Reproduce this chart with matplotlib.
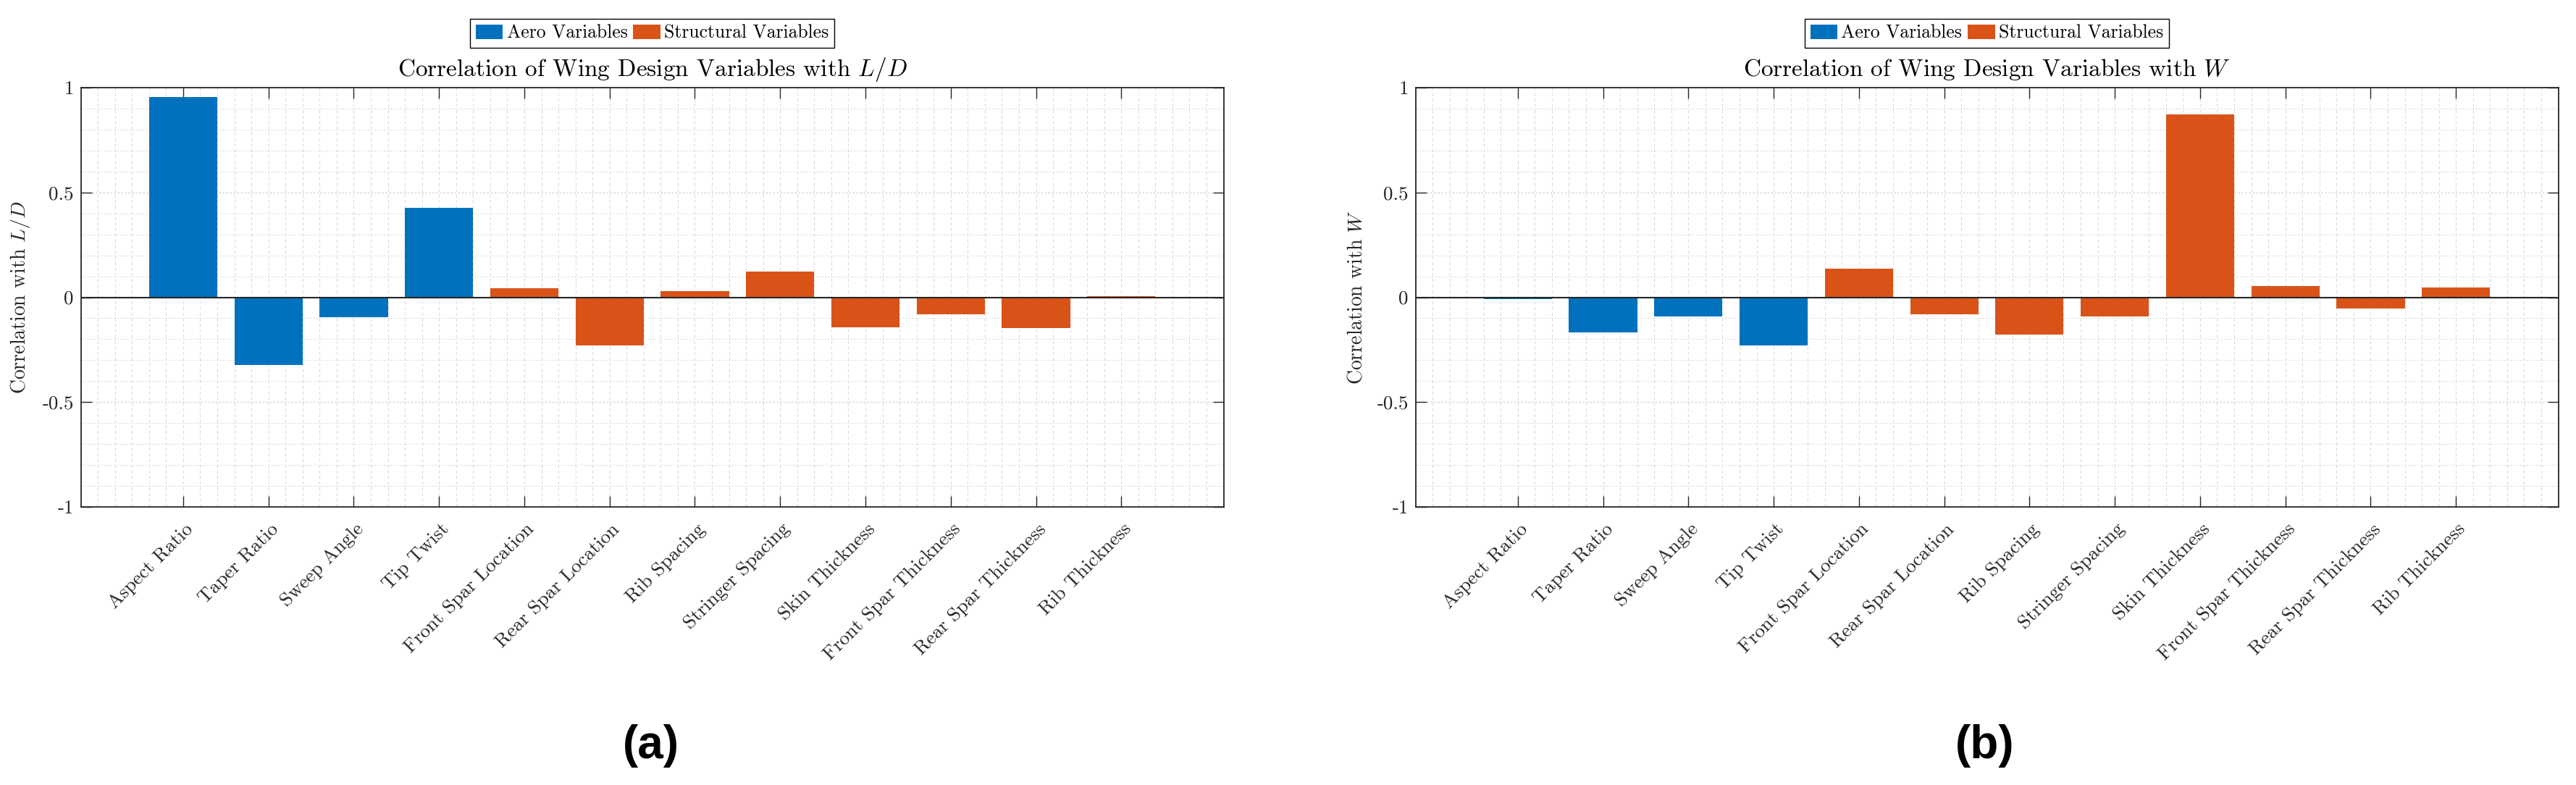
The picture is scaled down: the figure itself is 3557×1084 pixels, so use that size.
import matplotlib
matplotlib.use("Agg")
import matplotlib.pyplot as plt
import matplotlib.patches as mpatches
from matplotlib.transforms import ScaledTranslation
from matplotlib.ticker import MultipleLocator

plt.rcParams['font.family'] = ['cmr10', 'DejaVu Serif']
plt.rcParams['mathtext.fontset'] = 'cm'
plt.rcParams['axes.unicode_minus'] = False
plt.rcParams['axes.formatter.use_mathtext'] = True

categories = ["Aspect Ratio", "Taper Ratio", "Sweep Angle", "Tip Twist",
              "Front Spar Location", "Rear Spar Location", "Rib Spacing",
              "Stringer Spacing", "Skin Thickness", "Front Spar Thickness",
              "Rear Spar Thickness", "Rib Thickness"]
groups = ["Aero", "Aero", "Aero", "Aero", "Structural", "Structural", "Structural",
          "Structural", "Structural", "Structural", "Structural", "Structural"]
corr_LD = [0.956, -0.324, -0.094, 0.426, 0.044, -0.230, 0.028, 0.121,
           -0.145, -0.082, -0.146, 0.005]
corr_W = [-0.010, -0.167, -0.092, -0.228, 0.138, -0.082, -0.177, -0.093,
          0.873, 0.052, -0.053, 0.048]
yticks = [-1, -0.5, 0, 0.5, 1]
ytick_labels = ["-1", "-0.5", "0", "0.5", "1"]
legend_labels = ["Aero Variables", "Structural Variables"]
titles = [r"Correlation of Wing Design Variables with $L/D$",
          r"Correlation of Wing Design Variables with $W$"]
ylabels = [r"Correlation with $L/D$", r"Correlation with $W$"]
panel_labels = ["(a)", "(b)"]

colors = {"Aero": "#0072BD", "Structural": "#D95319"}
axis_color = "#262626"

W, H = 3557, 1084
fig = plt.figure(figsize=(W / 100, H / 100), dpi=100)

ax_left_px = [111.6, 1954.5]
ax_w_px = 1578
ax_top_px, ax_bot_px = 121, 700
panel_x_px = [899, 2741]

datasets = [corr_LD, corr_W]
x = list(range(1, len(categories) + 1))

for i in range(2):
    ax = fig.add_axes([ax_left_px[i] / W, (H - ax_bot_px) / H,
                       ax_w_px / W, (ax_bot_px - ax_top_px) / H])
    vals = datasets[i]
    ax.bar(x, vals, width=0.8, color=[colors[g] for g in groups],
           edgecolor='none', zorder=3)
    ax.axhline(0, color=axis_color, lw=1.5, zorder=4)
    ax.set_xlim(-0.2, 13.2)
    ax.set_ylim(-1, 1)
    ax.set_yticks(yticks)
    ax.set_yticklabels(ytick_labels, fontsize=19.5)
    ax.set_xticks(x)
    ax.set_xticklabels(categories, fontsize=19.5, rotation=45, ha='right',
                       va='center', rotation_mode='anchor')
    ax.yaxis.set_minor_locator(MultipleLocator(0.1))
    ax.xaxis.set_minor_locator(MultipleLocator(0.2))
    ax.tick_params(which='major', direction='in', length=11, width=1,
                   color=axis_color, top=True, right=True, labelcolor=axis_color)
    ax.tick_params(axis='x', which='major', pad=19.4)
    ax.tick_params(axis='y', which='major', pad=7)
    ax.tick_params(which='minor', length=0)
    ax.grid(True, which='major', axis='y', color='#cfcfcf', lw=0.9, ls=(0, (2, 2)), zorder=0)
    ax.grid(True, which='minor', axis='y', color='#dcdcdc', lw=0.8, ls=(0, (2, 2)), zorder=0)
    ax.grid(True, which='both', axis='x', color='#dcdcdc', lw=0.8, ls=(0, (4, 3)), zorder=0)
    for lab in ax.get_xticklabels():
        lab.set_transform(lab.get_transform() +
                          ScaledTranslation(10 / 100, 0, fig.dpi_scale_trans))
    for sp in ax.spines.values():
        sp.set_color(axis_color)
        sp.set_linewidth(1.3)
        sp.set_zorder(5)
    ax.set_title(titles[i], fontsize=24, pad=11.5, color='black')
    ax.set_ylabel(ylabels[i], fontsize=20, color=axis_color)
    ax.yaxis.set_label_coords(-0.043, 0.5)
    handles = [mpatches.Patch(facecolor=colors["Aero"], edgecolor='none'),
               mpatches.Patch(facecolor=colors["Structural"], edgecolor='none')]
    leg = ax.legend(handles, legend_labels, loc='center', bbox_to_anchor=(0.5, 1.13),
                    ncol=2, fontsize=18.5, frameon=True, fancybox=False,
                    edgecolor='black', framealpha=1, handlelength=1.46,
                    handleheight=0.86, handletextpad=0.2, columnspacing=0.31,
                    borderpad=0.3, borderaxespad=0)
    leg.get_frame().set_linewidth(1.0)
    fig.text(panel_x_px[i] / W, (H - 1030) / H, panel_labels[i],
             fontsize=46, fontweight='bold', family='Liberation Sans',
             ha='center', va='center')

fig.savefig("out.png", dpi=100)
